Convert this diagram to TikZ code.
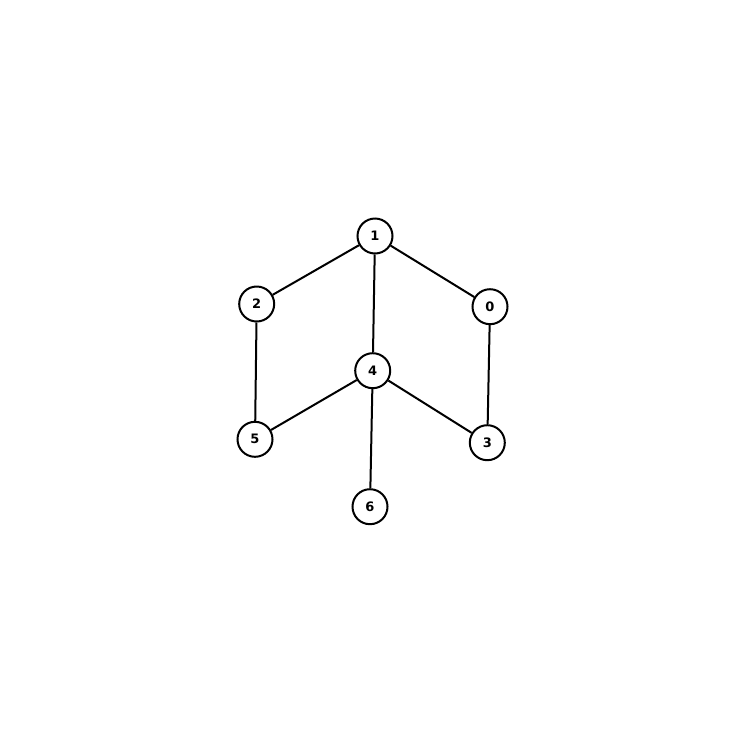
\documentclass[tikz,border=0pt]{standalone}
\usepackage{fontspec}
\setmainfont{DejaVu Sans}
\begin{document}
\begin{tikzpicture}[x=1pt,y=-1pt,
  vert/.style={circle,draw=black,line width=2pt,fill=white,minimum size=35pt,inner sep=0pt,font=\fontsize{13}{13}\selectfont\bfseries},
  edge/.style={line width=2pt,black}]
\useasboundingbox (0,0) rectangle (745,745);
\node[vert] (n1) at (375,236) {1};
\node[vert] (n2) at (256.7,304) {2};
\node[vert] (n0) at (490,306.7) {0};
\node[vert] (n4) at (372.7,370.7) {4};
\node[vert] (n5) at (255,439.3) {5};
\node[vert] (n3) at (487.3,442.7) {3};
\node[vert] (n6) at (370,506.7) {6};
\draw[edge] (n1) -- (n2);
\draw[edge] (n1) -- (n0);
\draw[edge] (n1) -- (n4);
\draw[edge] (n2) -- (n5);
\draw[edge] (n0) -- (n3);
\draw[edge] (n4) -- (n5);
\draw[edge] (n4) -- (n3);
\draw[edge] (n4) -- (n6);
\end{tikzpicture}
\end{document}
